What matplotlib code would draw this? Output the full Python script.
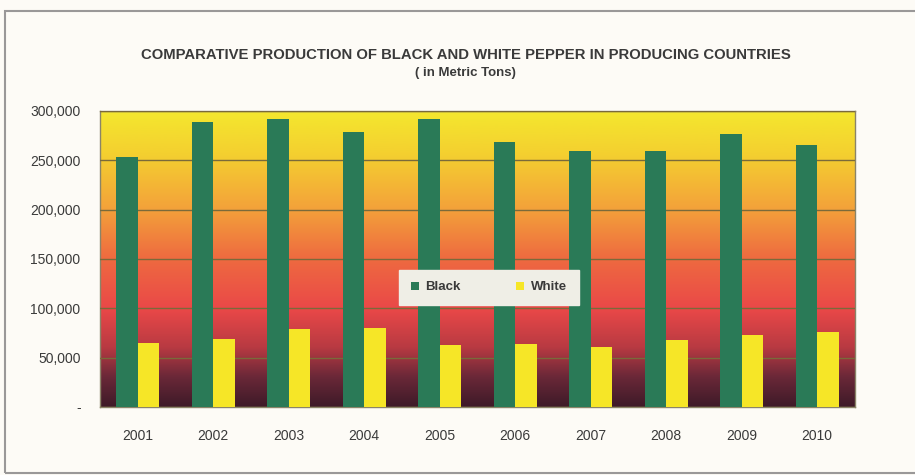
import numpy as np
import matplotlib.pyplot as plt
from matplotlib.colors import LinearSegmentedColormap
from matplotlib.patches import Rectangle
from matplotlib.ticker import FuncFormatter

# pepper production, metric tons
years = ["2001", "2002", "2003", "2004", "2005", "2006", "2007", "2008", "2009", "2010"]
black = [253000, 289000, 292000, 279000, 291500, 268500, 259000, 259000, 277000, 265000]
white = [64500, 68500, 79000, 79600, 62700, 63800, 61000, 67800, 72900, 76200]

plt.rcParams['font.family'] = ['Liberation Sans', 'DejaVu Sans']

fig = plt.figure(figsize=(9.15, 4.75), dpi=100, facecolor='#fdfbf6')
ax = fig.add_axes([0.1093, 0.1432, 0.8251, 0.6232])

# gradient fill behind the bars (dark at bottom, yellow at top)
grad = LinearSegmentedColormap.from_list("bg", [
    (0.0, '#3e1a28'), (0.1, '#6a2838'), (0.2, '#b83a42'), (0.33, '#ea4848'),
    (0.5, '#ee6a40'), (0.67, '#f3a23a'), (0.85, '#f4cf30'), (1.0, '#f4e82e')])
ax.imshow(np.linspace(0, 1, 256).reshape(-1, 1), cmap=grad, origin='lower',
          aspect='auto', extent=[0, 1, 0, 1], transform=ax.transAxes, zorder=0)

x = np.arange(len(years))
w = 0.285
ax.bar(x - w / 2, black, w, color='#2a7a57', label='Black', zorder=3)
ax.bar(x + w / 2, white, w, color='#f6e627', label='White', zorder=3)

ax.set_xlim(-0.5, len(years) - 0.5)
ax.set_ylim(0, 300000)
ax.set_yticks(range(0, 300001, 50000))
ax.yaxis.set_major_formatter(FuncFormatter(lambda v, p: '-' if v == 0 else f'{int(v):,}'))
ax.yaxis.grid(True, color='#7a6a3a', linewidth=1, zorder=1)
ax.set_axisbelow(False)
ax.set_xticks(x)
ax.set_xticklabels(years)
ax.tick_params(length=0, labelsize=10, colors='#3a3a3a')
ax.tick_params(axis='y', pad=14)
ax.tick_params(axis='x', pad=16)
for s in ax.spines.values():
    s.set_color('#8a8468')
    s.set_linewidth(1)

leg = ax.legend(loc='center', bbox_to_anchor=(0.515, 0.404), ncol=2, fontsize=9.5,
                facecolor='#efeee6', edgecolor='#efeee6', framealpha=1,
                handlelength=0.6, handleheight=0.6, columnspacing=4.2,
                handletextpad=0.5, borderpad=0.9, borderaxespad=0, fancybox=False)
for t in leg.get_texts():
    t.set_color('#3a3a3a')
    t.set_fontweight('bold')

fig.text(0.509, 0.884, 'COMPARATIVE PRODUCTION OF BLACK AND WHITE PEPPER IN PRODUCING COUNTRIES',
         ha='center', va='center', fontsize=10.7, fontweight='bold', color='#3a3a3a')
fig.text(0.509, 0.846, '( in Metric Tons)', ha='center', va='center',
         fontsize=9.5, fontweight='bold', color='#3a3a3a')

# outer frame
fig.patches.append(Rectangle((5 / 915, 2 / 475), 1.1, 462 / 475, transform=fig.transFigure,
                             fill=False, edgecolor='#9a9898', linewidth=1.5))

fig.savefig('out.png', dpi=100, facecolor=fig.get_facecolor())
